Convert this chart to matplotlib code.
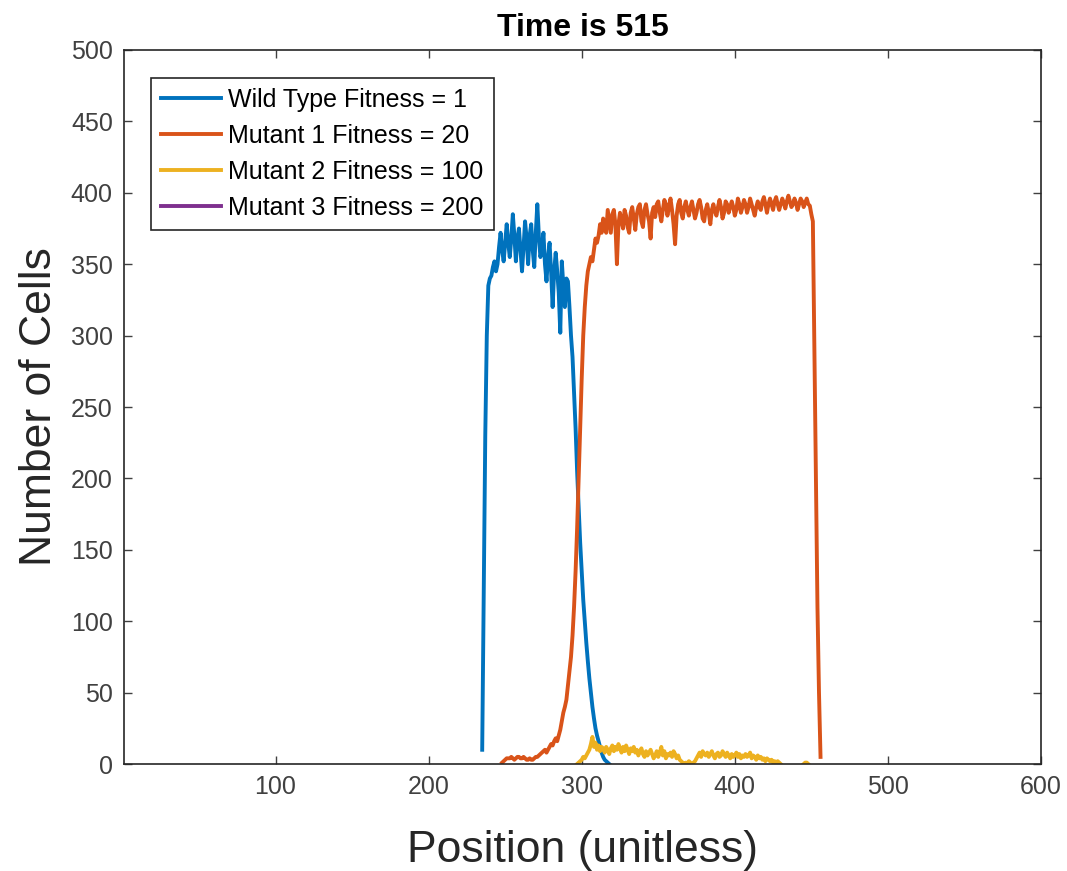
import numpy as np
import matplotlib
matplotlib.use("Agg")
import matplotlib.pyplot as plt

plt.rcParams['font.family'] = ['Liberation Sans', 'DejaVu Sans']

# Wild type, positions 235..318
wild_x = list(range(235, 319))
wild_y = [10, 120, 230, 300, 335, 340, 342, 348, 352, 345,
          350, 362, 372, 360, 352, 365, 378, 365, 355, 368,
          385, 370, 352, 368, 375, 360, 345, 362, 380, 368,
          350, 370, 378, 360, 348, 372, 392, 370, 355, 360,
          372, 350, 338, 355, 365, 345, 320, 345, 358, 345,
          330, 302, 352, 335, 320, 340, 338, 320, 300, 285,
          260, 235, 205, 180, 155, 135, 115, 100, 85, 72,
          60, 50, 40, 32, 25, 20, 16, 12, 8, 5,
          3, 2, 1, 0]

# Mutant 1, positions 248..456
mut1_x = list(range(248, 457))
mut1_y = [1, 2, 3, 4, 4, 4, 5, 4, 3, 4,
          5, 5, 4, 4, 5, 4, 3, 3, 4, 3,
          3, 4, 5, 5, 6, 7, 8, 9, 10, 8,
          10, 12, 14, 13, 16, 18, 16, 20, 24, 30,
          36, 40, 45, 55, 65, 75, 90, 110, 135, 165,
          200, 235, 270, 300, 320, 335, 345, 350, 355, 352,
          360, 368, 365, 370, 378, 372, 382, 378, 372, 388,
          380, 372, 385, 388, 378, 350, 378, 386, 380, 375,
          388, 384, 376, 372, 386, 390, 382, 374, 385, 390,
          392, 380, 376, 388, 392, 385, 380, 368, 386, 390,
          383, 392, 394, 386, 380, 388, 395, 392, 384, 390,
          396, 388, 378, 364, 384, 392, 395, 386, 382, 390,
          394, 388, 384, 390, 394, 388, 382, 386, 392, 395,
          390, 382, 380, 388, 392, 386, 378, 388, 392, 387,
          384, 390, 395, 390, 382, 386, 394, 392, 386, 390,
          394, 390, 384, 388, 396, 392, 386, 390, 395, 392,
          386, 390, 396, 392, 388, 384, 390, 394, 390, 388,
          394, 397, 392, 386, 392, 396, 392, 388, 394, 397,
          392, 388, 392, 396, 393, 389, 394, 398, 394, 390,
          392, 396, 393, 388, 392, 396, 394, 390, 393, 396,
          392, 391, 385, 380, 290, 200, 110, 50, 5]

# Mutant 2, positions 297..430 plus a tiny blip at 445..448
mut2_x = list(range(297, 431)) + [np.nan] + list(range(445, 449))
mut2_y = [0, 1, 2, 3, 5, 4, 6, 8, 10, 14,
          19, 12, 15, 10, 13, 9, 12, 11, 8, 12,
          10, 7, 11, 13, 9, 12, 10, 14, 11, 8,
          12, 9, 13, 10, 7, 11, 9, 12, 8, 10,
          6, 9, 11, 7, 5, 9, 6, 8, 10, 7,
          4, 6, 9, 5, 8, 12, 6, 9, 4, 7,
          6, 8, 5, 9, 7, 4, 6, 3, 2, 1,
          0, 1, 0, 2, 1, 0, 1, 2, 4, 6,
          8, 5, 9, 7, 6, 8, 5, 7, 9, 6,
          4, 7, 8, 5, 6, 9, 7, 5, 8, 6,
          4, 7, 5, 6, 8, 5, 7, 4, 6, 5,
          7, 5, 6, 8, 4, 6, 5, 3, 6, 4,
          5, 3, 4, 2, 4, 3, 2, 3, 1, 2,
          1, 2, 1, 0,
          np.nan,
          0, 1, 1, 0]

# Mutant 3 never shows up above zero
mut3_x = []
mut3_y = []

labels = ["Wild Type Fitness = 1", "Mutant 1 Fitness = 20",
          "Mutant 2 Fitness = 100", "Mutant 3 Fitness = 200"]
colors = ["#0072BD", "#D95319", "#EDB120", "#7E2F8E"]

fig = plt.figure(figsize=(10.67, 8.71), dpi=100)
ax = fig.add_axes([0.1162, 0.1228, 0.8594, 0.8198])

series = [(wild_x, wild_y), (mut1_x, mut1_y), (mut2_x, mut2_y), (mut3_x, mut3_y)]
for (xs, ys), label, color in zip(series, labels, colors):
    ax.plot(xs, ys, color=color, lw=2.8, label=label, solid_joinstyle='round')

ax.set_xlim(1, 600)
ax.set_ylim(0, 500)
ax.set_xticks(range(100, 601, 100))
ax.set_yticks(range(0, 501, 50))

tick_color = "#404040"
ax.tick_params(direction='in', length=6, width=1, top=True, right=True,
               labelsize=18, colors=tick_color, pad=8)
for spine in ax.spines.values():
    spine.set_color("#262626")
    spine.set_linewidth(1.2)

ax.set_title("Time is 515", fontsize=23, fontweight='bold', pad=10)
ax.set_xlabel("Position (unitless)", fontsize=32, color="#262626", labelpad=22)
ax.set_ylabel("Number of Cells", fontsize=32, color="#262626", labelpad=8)

leg = ax.legend(loc='upper left', bbox_to_anchor=(0.0294, 0.961), borderaxespad=0,
                fontsize=18, handlelength=2.4, handletextpad=0.3, labelspacing=0.48,
                borderpad=0.4, fancybox=False, framealpha=1, edgecolor="#262626")
leg.get_frame().set_linewidth(1.2)

fig.savefig("out.png", dpi=100)
